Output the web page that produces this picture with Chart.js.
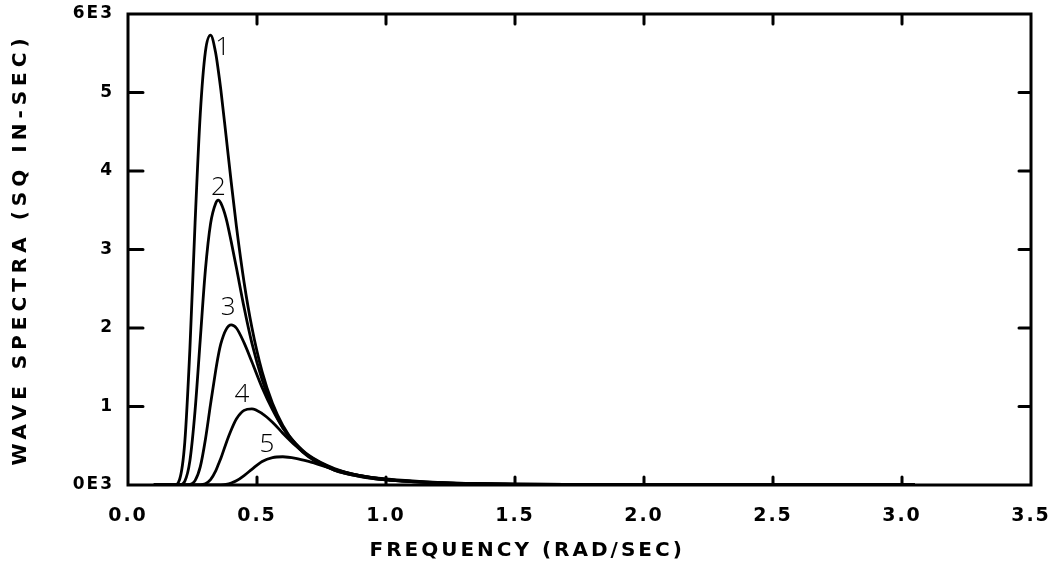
<!DOCTYPE html>
<html>
<head>
<meta charset="utf-8">
<script src="https://cdn.jsdelivr.net/npm/chart.js@4.4.1/dist/chart.umd.min.js"></script>
<style>
  html, body { margin: 0; padding: 0; background: #fff; }
  #wrap { width: 1048px; height: 568px; }
</style>
</head>
<body>
<div id="wrap"><canvas id="chartSpectra"></canvas></div>
<script>
// frequency (rad/sec) and wave spectra (E3 sq in-sec)
var freq = [0.10, 0.16, 0.18, 0.20, 0.22, 0.24, 0.26, 0.28, 0.30, 0.32,
            0.34, 0.35, 0.36, 0.38, 0.40, 0.42, 0.45, 0.48, 0.52, 0.56,
            0.60, 0.65, 0.70, 0.80, 0.90, 1.00, 1.20, 1.50, 2.00, 2.50, 3.05];

var spectrum1 = [0, 0, 0, 0.07, 0.54, 1.74, 3.34, 4.72, 5.52, 5.73,
                 5.50, 5.28, 5.03, 4.45, 3.86, 3.30, 2.58, 2.01, 1.44, 1.04,
                 0.76, 0.52, 0.37, 0.19, 0.11, 0.064, 0.026, 0.009, 0.002, 0.001, 0];
var spectrum2 = [0, 0, 0, 0.002, 0.047, 0.31, 0.95, 1.85, 2.74, 3.33,
                 3.59, 3.63, 3.59, 3.40, 3.10, 2.77, 2.26, 1.81, 1.34, 0.99,
                 0.73, 0.51, 0.36, 0.19, 0.108, 0.064, 0.026, 0.009, 0.002, 0.001, 0];
var spectrum3 = [0, 0, 0, 0, 0, 0.006, 0.056, 0.23, 0.58, 1.03,
                 1.46, 1.65, 1.80, 1.98, 2.04, 2.00, 1.81, 1.57, 1.24, 0.96,
                 0.73, 0.53, 0.38, 0.21, 0.118, 0.071, 0.029, 0.0095, 0.0023, 0.001, 0];
var spectrum4 = [0, 0, 0, 0, 0, 0, 0, 0.002, 0.017, 0.069,
                 0.18, 0.26, 0.34, 0.53, 0.70, 0.84, 0.95, 0.97, 0.91, 0.80,
                 0.66, 0.50, 0.37, 0.20, 0.12, 0.073, 0.030, 0.010, 0.0024, 0.001, 0];
var spectrum5 = [0, 0, 0, 0, 0, 0, 0, 0, 0, 0,
                 0, 0, 0.001, 0.008, 0.025, 0.053, 0.12, 0.20, 0.30, 0.35,
                 0.36, 0.34, 0.30, 0.20, 0.12, 0.077, 0.034, 0.012, 0.0028, 0.001, 0];

var curveLabels = ["1", "2", "3", "4", "5"];
var xTickValues = [0, 0.5, 1.0, 1.5, 2.0, 2.5, 3.0, 3.5];
var yTickLabels = ["0E3", "1", "2", "3", "4", "5", "6E3"];

var xTitle = "FREQUENCY (RAD/SEC)";
var yTitle = "WAVE SPECTRA (SQ IN-SEC)";

var allSpectra = [spectrum1, spectrum2, spectrum3, spectrum4, spectrum5];
// where each number sits relative to its curve's peak (px)
var labelOffsets = [[12, 12], [0, -12], [-3, -17], [-10, -14], [-16, -12]];

function toPoints(values) {
  return freq.map(function (f, i) { return { x: f, y: values[i] }; });
}

var plotFrame = {
  id: "plotFrame",
  beforeDraw: function (chart) {
    chart.ctx.letterSpacing = "2px";
  },
  afterDatasetsDraw: function (chart) {
    var ctx = chart.ctx, a = chart.chartArea;
    var sx = chart.scales.x, sy = chart.scales.y;
    ctx.save();
    ctx.letterSpacing = "0px";
    ctx.strokeStyle = "#000";
    ctx.fillStyle = "#000";
    ctx.lineWidth = 3;
    ctx.lineCap = "round";

    // box with inward ticks on all four sides
    ctx.beginPath();
    ctx.rect(a.left, a.top, a.right - a.left, a.bottom - a.top);
    xTickValues.forEach(function (v) {
      var px = sx.getPixelForValue(v);
      ctx.moveTo(px, a.bottom); ctx.lineTo(px, a.bottom - 8);
      ctx.moveTo(px, a.top); ctx.lineTo(px, a.top + 10);
    });
    sy.ticks.forEach(function (t) {
      var py = sy.getPixelForValue(t.value);
      ctx.moveTo(a.left, py); ctx.lineTo(a.left + 15, py);
      ctx.moveTo(a.right, py); ctx.lineTo(a.right - 12, py);
    });
    ctx.stroke();

    // curve numbers near each peak
    ctx.font = '300 26px "Open Sans"';
    ctx.textAlign = "center";
    ctx.textBaseline = "middle";
    allSpectra.forEach(function (values, i) {
      var top = values.indexOf(Math.max.apply(null, values));
      var pt = chart.getDatasetMeta(i).data[top];
      ctx.fillText(curveLabels[i], pt.x + labelOffsets[i][0], pt.y + labelOffsets[i][1]);
    });

    // axis titles
    ctx.font = 'bold 20px "DejaVu Sans"';
    ctx.letterSpacing = "3px";
    ctx.fillText(xTitle, a.left + 0.442 * (a.right - a.left), 551);
    ctx.translate(21, (a.top + a.bottom) / 2);
    ctx.rotate(-Math.PI / 2);
    ctx.letterSpacing = "5px";
    ctx.fillText(yTitle, 0, 0);
    ctx.restore();
  }
};

var ctx1 = document.getElementById("chartSpectra").getContext("2d");
new Chart(ctx1, {
  type: "line",
  data: {
    datasets: allSpectra.map(function (values, i) {
      return {
        label: "Curve " + curveLabels[i],
        data: toPoints(values),
        borderColor: "#000",
        borderWidth: 2.8,
        pointRadius: 0,
        fill: false,
        cubicInterpolationMode: "monotone"
      };
    })
  },
  options: {
    responsive: true,
    maintainAspectRatio: false,
    animation: false,
    layout: { padding: { top: 14, right: 17, left: 0, bottom: 0 } },
    plugins: {
      legend: { display: false },
      tooltip: { enabled: false }
    },
    scales: {
      x: {
        type: "linear",
        min: 0,
        max: 3.5,
        afterBuildTicks: function (scale) {
          scale.ticks = xTickValues.map(function (v) { return { value: v }; });
        },
        afterFit: function (scale) {
          scale.height = 83;
          scale.paddingLeft = 0;
          scale.paddingRight = 0;
        },
        grid: { display: false, drawTicks: false },
        border: { display: false },
        ticks: {
          padding: 20,
          color: "#000",
          maxRotation: 0,
          autoSkip: false,
          font: { family: "DejaVu Sans", weight: "bold", size: 19 },
          callback: function (v) { return v.toFixed(1); }
        }
      },
      y: {
        min: 0,
        max: 6,
        afterFit: function (scale) {
          scale.width = 128;
          scale.paddingTop = 0;
          scale.paddingBottom = 0;
        },
        grid: { display: false, drawTicks: false },
        border: { display: false },
        ticks: {
          stepSize: 1,
          padding: 14,
          color: "#000",
          font: { family: "DejaVu Sans", weight: "bold", size: 17 },
          callback: function (v) { return yTickLabels[v]; }
        }
      }
    }
  },
  plugins: [plotFrame]
});
</script>
</body>
</html>
